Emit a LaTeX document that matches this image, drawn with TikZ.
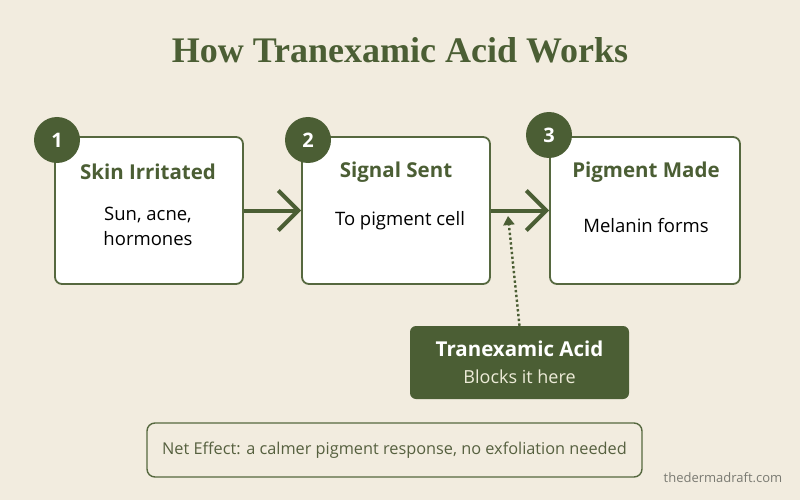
\documentclass[tikz,border=0pt]{standalone}
\usepackage{fontspec}
\setmainfont{Open Sans}
\newfontfamily\titlefont{Liberation Serif}
\usetikzlibrary{arrows.meta, positioning}
\definecolor{bgcream}{HTML}{F2ECDF}
\definecolor{tgreen}{HTML}{4B5E34}
\definecolor{edgegreen}{HTML}{56683F}
\definecolor{notegray}{HTML}{56603F}
\definecolor{marktext}{HTML}{7A7A72}
\definecolor{paleink}{HTML}{EDEBD8}

\begin{document}
\begin{tikzpicture}[x=1pt, y=-1pt,
  stepcard/.style={draw=edgegreen, line width=1.8pt, rounded corners=7pt, fill=white,
    minimum width=188pt, minimum height=147pt, inner sep=0pt},
  badge/.style={circle, fill=tgreen, minimum size=46pt, inner sep=0pt,
    text=white, font=\fontsize{20}{24}\selectfont\bfseries},
  stephead/.style={text=tgreen, font=\fontsize{20.5}{24}\selectfont\bfseries},
  stepbody/.style={text=black, align=center, font=\fontsize{18.5}{25}\selectfont},
  flowline/.style={draw=tgreen, line width=4pt, -{Straight Barb[length=20pt, width=40pt]}},
  blockline/.style={draw=tgreen, line width=2.4pt, dash pattern=on 2.4pt off 2.4pt,
    -{Triangle[length=9pt, width=11pt]}}]
  % canvas
  \fill[bgcream] (0,0) rectangle (800,500);
  \useasboundingbox (0,0) rectangle (800,500);

  \node[text=tgreen, font=\fontsize{36}{40}\selectfont\titlefont\bfseries] (title) at (400,50) {How Tranexamic Acid Works};

  % the three steps
  \node[stepcard] (s1) at (149,210.5) {};
  \node[stepcard] (s2) at (396,210.5) {};
  \node[stepcard, minimum width=190pt] (s3) at (645,210.5) {};

  \node[stephead] (h1) at (148,172) {Skin Irritated};
  \node[stephead] (h2) at (396,172) {Signal Sent};
  \node[stephead] (h3) at (646,172) {Pigment Made};

  \node[stepbody] (t1) at (148,226) {Sun, acne,\\hormones};
  \node[stepbody] (t2) at (400,221) {To pigment cell};
  \node[stepbody] (t3) at (646,226) {Melanin forms};

  \foreach \n/\px/\py in {1/57/140, 2/308/140, 3/549/135}{
    \node[badge] (b\n) at (\px,\py) {\n};
  }

  \draw[flowline] (s1.east) -- (s2.west);
  \draw[flowline] (s2.east) -- (s3.west);

  % where the acid acts
  \node[fill=tgreen, rounded corners=6pt, minimum width=219pt, minimum height=73pt,
    align=center, text=white, font=\fontsize{18}{27}\selectfont] (tx) at (519.5,362.5)
    {{\fontsize{20.5}{27}\selectfont\bfseries Tranexamic Acid}\\
     {\color{paleink}Blocks it here}};
  \coordinate (block) at (508,216);
  \draw[blockline] (tx.north) -- (block);

  \node[draw=edgegreen, line width=1.4pt, rounded corners=8pt, minimum width=495pt,
    minimum height=54pt, text=notegray, font=\fontsize{16.3}{20}\selectfont] (net) at (394.5,450)
    {Net Effect: a calmer pigment response, no exfoliation needed};

  \node[text=marktext, font=\fontsize{13}{16}\selectfont] (mark) at (723,478) {thedermadraft.com};
\end{tikzpicture}
\end{document}
